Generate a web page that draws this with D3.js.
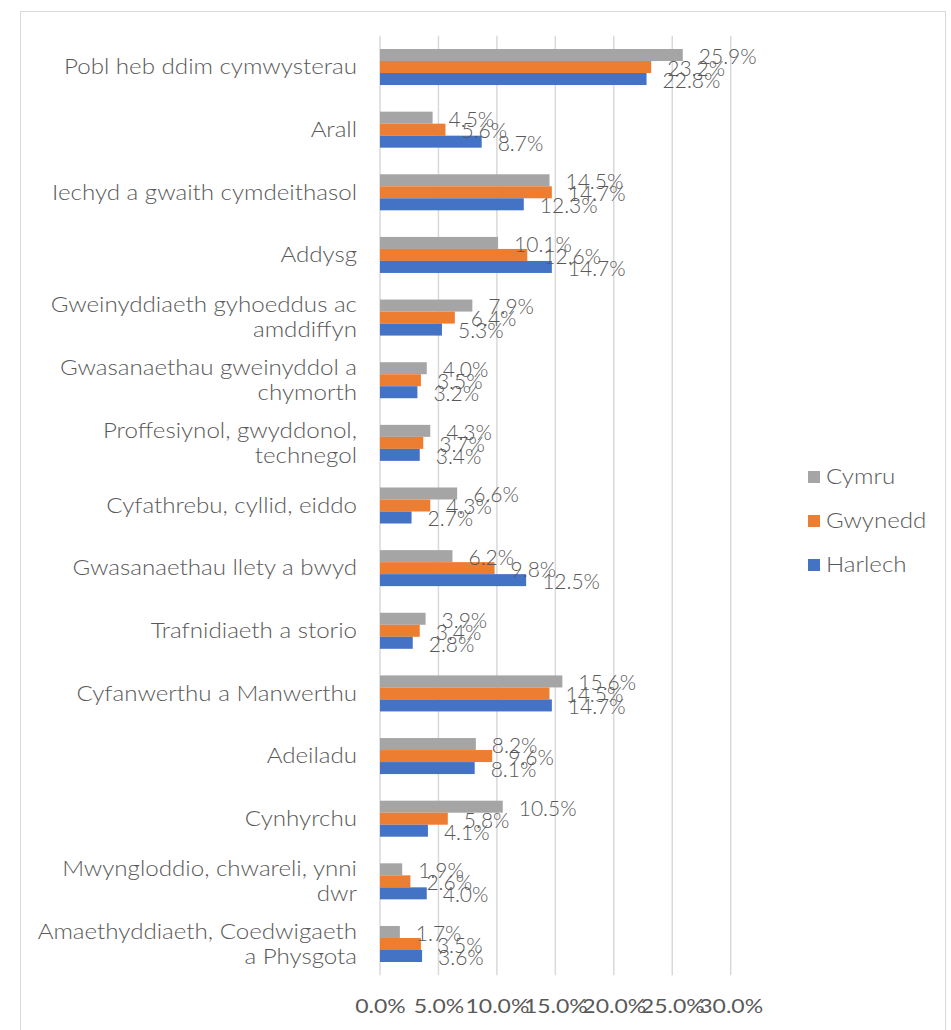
<!DOCTYPE html>
<html>
<head>
<meta charset="utf-8">
<script src="https://cdn.jsdelivr.net/npm/d3@7"></script>
<style>
  html, body { margin: 0; padding: 0; background: #fff; }
  svg { display: block; font-family: Lato, "Open Sans", sans-serif; }
</style>
</head>
<body>
<svg id="chart" width="951" height="1030"></svg>
<script>
const categories = [
  "Pobl heb ddim cymwysterau",
  "Arall",
  "Iechyd a gwaith cymdeithasol",
  "Addysg",
  "Gweinyddiaeth gyhoeddus ac\namddiffyn",
  "Gwasanaethau gweinyddol a\nchymorth",
  "Proffesiynol, gwyddonol,\ntechnegol",
  "Cyfathrebu, cyllid, eiddo",
  "Gwasanaethau llety a bwyd",
  "Trafnidiaeth a storio",
  "Cyfanwerthu a Manwerthu",
  "Adeiladu",
  "Cynhyrchu",
  "Mwyngloddio, chwareli, ynni\ndwr",
  "Amaethyddiaeth, Coedwigaeth\na Physgota"
];
const seriesNames = ["Cymru", "Gwynedd", "Harlech"];
const cymru   = [25.9, 4.5, 14.5, 10.1, 7.9, 4.0, 4.3, 6.6, 6.2, 3.9, 15.6, 8.2, 10.5, 1.9, 1.7];
const gwynedd = [23.2, 5.6, 14.7, 12.6, 6.4, 3.5, 3.7, 4.3, 9.8, 3.4, 14.5, 9.6, 5.8, 2.6, 3.5];
const harlech = [22.8, 8.7, 12.3, 14.7, 5.3, 3.2, 3.4, 2.7, 12.5, 2.8, 14.7, 8.1, 4.1, 4.0, 3.6];
const xTicks = [0, 5, 10, 15, 20, 25, 30];
const colors = ["#A5A5A5", "#ED7D31", "#4472C4"];

const seriesValues = [cymru, gwynedd, harlech];
const svg = d3.select("#chart");
const textColor = "#595959";
const stretch = 1.15; // horizontal stretch of the category/legend text

// frame
svg.append("rect")
  .attr("x", 20.5).attr("y", 11.5)
  .attr("width", 925).attr("height", 1030)
  .attr("fill", "none").attr("stroke", "#D9D9D9").attr("stroke-width", 1);

const plot = { left: 380, right: 730.7, top: 35.7, bottom: 975.3 };

const x = d3.scaleLinear().domain([0, 30]).range([plot.left, plot.right]);
const y = d3.scaleBand().domain(d3.range(categories.length))
  .range([plot.top, plot.bottom]).paddingInner(0.425).paddingOuter(0.2125);
const ySub = d3.scaleBand().domain(d3.range(seriesNames.length)).range([0, y.bandwidth()]);

// gridlines
svg.append("g").selectAll("line").data(xTicks).join("line")
  .attr("x1", d => x(d)).attr("x2", d => x(d))
  .attr("y1", plot.top).attr("y2", plot.bottom)
  .attr("stroke", "#D9D9D9").attr("stroke-width", 1.5);

// x axis tick labels
const xAxis = d3.axisBottom(x).tickValues(xTicks).tickSize(0).tickPadding(0)
  .tickFormat(d => d.toFixed(1) + "%");
const gx = svg.append("g").attr("transform", `translate(0, ${plot.bottom + 23})`).call(xAxis);
gx.select(".domain").remove();
gx.selectAll("text").attr("font-size", 20).attr("fill", textColor)
  .attr("font-family", "Lato").attr("font-weight", 400)
  .attr("transform", `scale(${stretch},1)`);

// category labels
const catG = svg.append("g");
categories.forEach((c, i) => {
  const lines = c.split("\n");
  const cy = y(i) + y.bandwidth() / 2;
  const lh = 25;
  const t = catG.append("text")
    .attr("x", 357).attr("text-anchor", "end")
    .attr("transform", `translate(357,0) scale(${stretch},1) translate(-357,0)`)
    .attr("font-size", 21).attr("font-weight", 300).attr("fill", textColor);
  lines.forEach((ln, k) => {
    t.append("tspan").attr("x", 357)
      .attr("y", cy + (k - (lines.length - 1) / 2) * lh)
      .attr("dy", "0.35em").text(ln);
  });
});

// bars
const groups = svg.append("g").selectAll("g").data(categories).join("g")
  .attr("transform", (d, i) => `translate(0, ${y(i)})`);
groups.each(function(d, i) {
  const g = d3.select(this);
  seriesValues.forEach((vals, s) => {
    g.append("rect")
      .attr("x", x(0)).attr("y", ySub(s))
      .attr("width", x(vals[i]) - x(0)).attr("height", ySub.bandwidth())
      .attr("fill", colors[s]);
  });
});
// data labels
groups.each(function(d, i) {
  const g = d3.select(this);
  seriesValues.forEach((vals, s) => {
    g.append("text")
      .attr("x", x(vals[i]) + 16)
      .attr("y", ySub(s) + ySub.bandwidth() / 2 + 1.5)
      .attr("dy", "0.35em")
      .attr("font-size", 21).attr("font-weight", 300).attr("fill", textColor)
      .text(vals[i].toFixed(1) + "%");
  });
});

// legend
const leg = svg.append("g");
seriesNames.forEach((n, s) => {
  const ly = 477 + s * 44;
  leg.append("rect").attr("x", 808).attr("y", ly - 6).attr("width", 12).attr("height", 12)
    .attr("fill", colors[s]);
  leg.append("text").attr("x", 826).attr("y", ly).attr("dy", "0.35em")
    .attr("transform", `translate(826,0) scale(${stretch},1) translate(-826,0)`)
    .attr("font-size", 21).attr("font-weight", 300).attr("fill", textColor).text(n);
});
</script>
</body>
</html>
